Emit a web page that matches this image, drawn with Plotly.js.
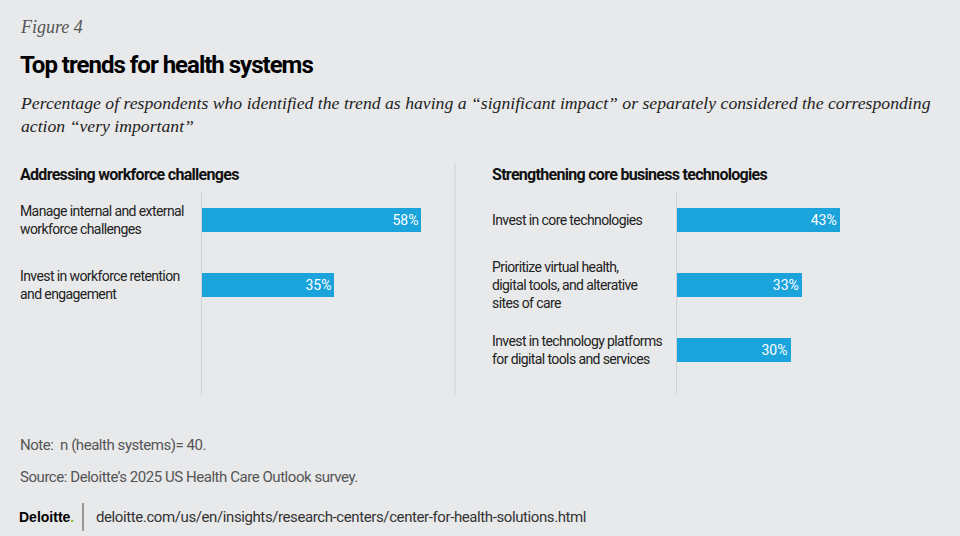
<!DOCTYPE html>
<html>
<head>
<meta charset="utf-8">
<script src="https://cdn.plot.ly/plotly-3.0.1.min.js"></script>
<style>html,body{margin:0;padding:0;background:#e8e9eb;}</style>
</head>
<body>
<div id="chart" style="width:960px;height:536px;"></div>
<script>
const leftCategories = ["Manage internal and external<br>workforce challenges", "Invest in workforce retention<br>and engagement"];
const leftValues = [58, 35];
const rightCategories = ["Invest in core technologies", "Prioritize virtual health,<br>digital tools, and alterative<br>sites of care", "Invest in technology platforms<br>for digital tools and services"];
const rightValues = [43, 33, 30];
const leftHeader = "Addressing workforce challenges";
const rightHeader = "Strengthening core business technologies";

const W = 960, H = 536;
const px = x => x / W;
const py = y => 1 - y / H;
const BAR = '#1ba3dc';
const SANS = '"Roboto", "Liberation Sans", sans-serif';
const SERIF = '"Liberation Serif", "DejaVu Serif", serif';

function ls(text, sp) {
  return text.split('<br>').map(t => '<span style="letter-spacing:' + sp + 'px">' + t + '</span>').join('<br>');
}

const leftIdx = leftValues.map((_, i) => i);
const rightIdx = rightValues.map((_, i) => i);

const barCommon = {type: 'bar', orientation: 'h', marker: {color: BAR}, width: 0.36,
  texttemplate: '%{x}%', textposition: 'inside', insidetextanchor: 'end',
  textfont: {color: '#ffffff', size: 14, family: SANS}, hoverinfo: 'skip'};
const traces = [
  Object.assign({}, barCommon, {x: leftValues, y: leftIdx, xaxis: 'x', yaxis: 'y'}),
  Object.assign({}, barCommon, {x: rightValues, y: rightIdx, xaxis: 'x2', yaxis: 'y2'})
];

const yDom = [py(395), py(192)];
const hiddenX = {range: [0, 60], showgrid: false, zeroline: false, showticklabels: false, showline: false, fixedrange: true};
const yAx = {range: [2.69, -0.43], showgrid: false, zeroline: false, showticklabels: false,
  showline: true, linecolor: '#cfd1d4', linewidth: 1, domain: yDom, fixedrange: true};

const ann = [];
function txt(text, x, y, font) {
  ann.push({text: text, x: px(x), y: py(y), xref: 'paper', yref: 'paper',
    xanchor: 'left', yanchor: 'middle', showarrow: false, align: 'left', font: font});
}
txt('<i>Figure 4</i>', 18, 27, {size: 18, family: SERIF, color: '#555'});
txt('<b>' + ls('Top trends for health systems', -1) + '</b>', 18, 65, {size: 24, family: SANS, color: '#000', weight: 900});
txt('<i>Percentage of respondents who identified the trend as having a “significant impact” or separately considered the corresponding<br>action “very important”</i>', 18, 114, {size: 17.7, family: SERIF, color: '#222'});
txt('<b>' + ls(leftHeader, -0.7) + '</b>', 18, 174, {size: 16, family: SANS, color: '#111'});
txt('<b>' + ls(rightHeader, -0.7) + '</b>', 490, 174, {size: 16, family: SANS, color: '#111'});

leftCategories.forEach((c, i) => ann.push({text: ls(c, -0.6), x: px(18), xref: 'paper', y: leftIdx[i], yref: 'y',
  xanchor: 'left', yanchor: 'middle', align: 'left', showarrow: false,
  font: {size: 14, family: SANS, color: '#222'}}));
rightCategories.forEach((c, i) => ann.push({text: ls(c, -0.6), x: px(490), xref: 'paper', y: rightIdx[i], yref: 'y2',
  xanchor: 'left', yanchor: 'middle', align: 'left', showarrow: false,
  font: {size: 14, family: SANS, color: '#222'}}));

txt(ls('Note:  n (health systems)= 40.', -0.45), 18, 445, {size: 15, family: SANS, color: '#555'});
txt(ls('Source: Deloitte’s 2025 US Health Care Outlook survey.', -0.45), 18, 477, {size: 15, family: SANS, color: '#555'});
txt('<b>Deloitte</b><span style="color:#86bc25"><b>.</b></span>', 17, 517, {size: 14, family: '"Liberation Sans", Arial, sans-serif', color: '#000'});
txt(ls('deloitte.com/us/en/insights/research-centers/center-for-health-solutions.html', -0.4), 94, 517, {size: 15, family: SANS, color: '#333'});

const layout = {
  width: W, height: H, margin: {l: 0, r: 0, t: 0, b: 0, pad: 0},
  paper_bgcolor: '#e8e9eb', plot_bgcolor: 'rgba(0,0,0,0)', showlegend: false,
  bargap: 0,
  xaxis: Object.assign({}, hiddenX, {domain: [px(202), px(429)], anchor: 'y'}),
  yaxis: Object.assign({}, yAx, {anchor: 'x'}),
  xaxis2: Object.assign({}, hiddenX, {domain: [px(677), px(904)], anchor: 'y2'}),
  yaxis2: Object.assign({}, yAx, {anchor: 'x2'}),
  annotations: ann,
  shapes: [
    {type: 'line', xref: 'paper', yref: 'paper', x0: px(455), x1: px(455), y0: py(163), y1: py(395), line: {color: '#cfd1d4', width: 1}},
    {type: 'line', xref: 'paper', yref: 'paper', x0: px(83), x1: px(83), y0: py(503), y1: py(531), line: {color: '#444', width: 1}}
  ]
};
Plotly.newPlot('chart', traces, layout, {displayModeBar: false, staticPlot: true});
</script>
</body>
</html>
